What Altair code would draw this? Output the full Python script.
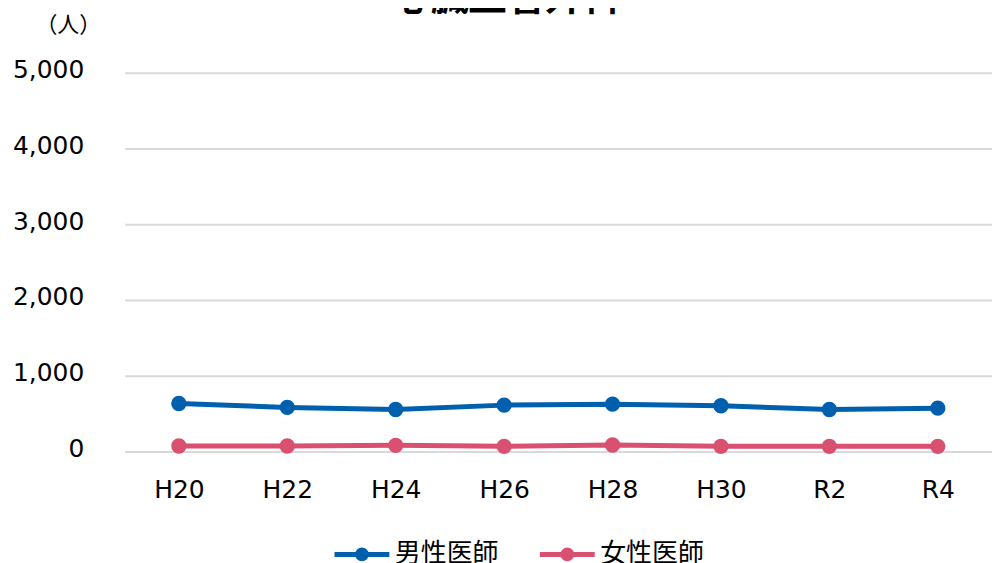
import altair as alt
import pandas as pd

title_text = "心臓血管外科"
years = ["H20", "H22", "H24", "H26", "H28", "H30", "R2", "R4"]
male = [634, 582, 555, 612, 625, 603, 555, 572]
female = [72, 72, 81, 68, 85, 68, 68, 68]
series = ["男性医師", "女性医師"]
colors = ["#0060AE", "#DA5070"]
y_ticks = [0, 1000, 2000, 3000, 4000, 5000]

rows = []
for i, y in enumerate(years):
    rows.append({"year": y, "series": series[0], "value": male[i]})
    rows.append({"year": y, "series": series[1], "value": female[i]})
df = pd.DataFrame(rows)

color_scale = alt.Scale(domain=series, range=colors)
leg_path = "M-1,0L1,0M0.16,0A0.16,0.16,0,1,1,-0.16,0A0.16,0.16,0,1,1,0.16,0Z"
legend = alt.Legend(
    title=None,
    orient="none",
    legendX=208,
    legendY=453,
    direction="horizontal",
    symbolType=leg_path,
    symbolSize=3025,
    symbolStrokeWidth=5,
    labelFont="Noto Sans CJK JP",
    labelFontSize=26,
    labelColor="#000000",
    labelOffset=3,
    columnPadding=30,
    padding=0,
)

x = alt.X("year:N", sort=years, scale=alt.Scale(type="point", padding=0.5),
          axis=alt.Axis(title=None, labelAngle=0, labelFont="DejaVu Sans", labelFontSize=25,
                        labelColor="#000000", labelPadding=26, ticks=False, domain=False, grid=False))
y = alt.Y("value:Q", scale=alt.Scale(domain=[0, 5000], nice=False),
          axis=alt.Axis(values=y_ticks, format=",.0f", title="（人）", titleAngle=0,
                        titleX=-57, titleY=-48, titleAlign="center", titleBaseline="middle",
                        titleFont="Noto Sans CJK JP", titleFontSize=22, titleFontWeight="normal",
                        titleColor="#000000",
                        labelFont="DejaVu Sans", labelFontSize=25, labelColor="#000000",
                        labelPadding=41, labelOffset=-3, ticks=False, domain=False,
                        grid=True, gridColor="#d9d9d9", gridWidth=2))

lines = alt.Chart(df).mark_line(strokeWidth=5).encode(
    x=x, y=y,
    stroke=alt.Stroke("series:N", scale=color_scale, sort=series, legend=legend),
    detail="series:N",
)
points = alt.Chart(df).mark_point(filled=True, size=180, opacity=1).encode(
    x=x, y=y,
    fill=alt.Fill("series:N", scale=color_scale, sort=series, legend=legend),
    stroke=alt.Stroke("series:N", scale=color_scale, sort=series, legend=legend),
)
title_mark = alt.Chart(pd.DataFrame({"t": [title_text]})).mark_text(
    font="Noto Sans CJK JP", fontSize=38, fontWeight="bold", color="#000000",
    align="center", baseline="alphabetic",
).encode(text="t:N", x=alt.value(383), y=alt.value(-63))

chart = alt.layer(lines, points, title_mark).properties(
    width=870,
    height=380,
    autosize=alt.AutoSizeParams(type="none"),
    padding={"left": 117, "top": 64, "right": 0, "bottom": 111},
).configure_view(stroke=None)

chart.save("out.html", embed_options={"renderer": "svg", "actions": False})
